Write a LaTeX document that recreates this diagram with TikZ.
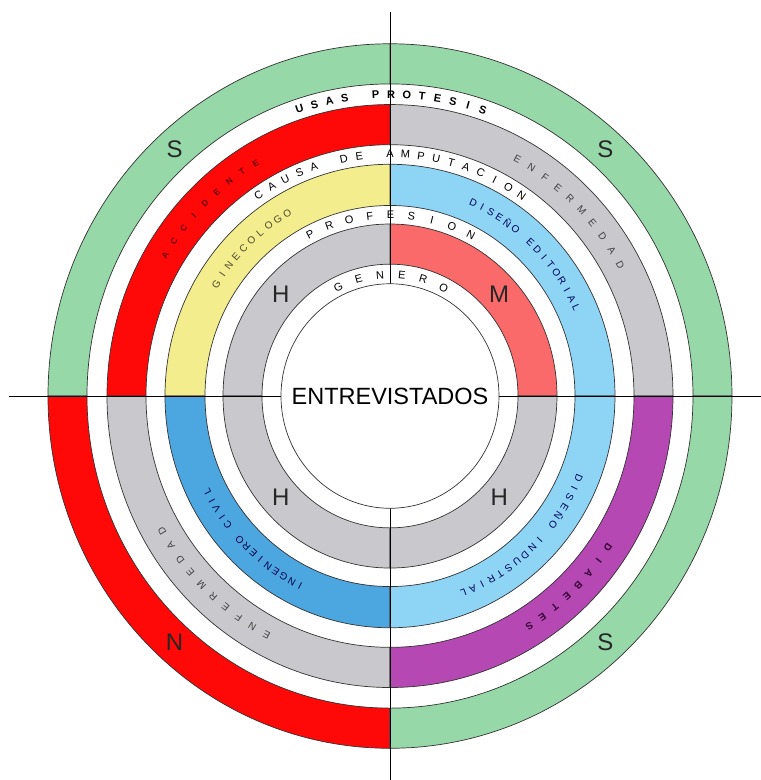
\documentclass[tikz,border=0pt]{standalone}
\usepackage{fontspec}
\setmainfont{Liberation Sans}

\definecolor{ringgreen}{RGB}{150,216,168}
\definecolor{ringred}{RGB}{255,8,8}
\definecolor{ringgray}{RGB}{201,201,205}
\definecolor{ringyellow}{RGB}{243,237,142}
\definecolor{ringsky}{RGB}{142,212,245}
\definecolor{ringblue}{RGB}{76,166,224}
\definecolor{ringsalmon}{RGB}{250,106,106}
\definecolor{ringmagenta}{RGB}{182,72,180}

% one quarter of a ring: inner r, outer r, from, to, colour
\newcommand{\band}[5]{%
	\draw[ringline, fill=#5] ({#3}:#1) arc[start angle={#3}, end angle={#4}, radius=#1]
		-- ({#4}:#2) arc[start angle={#4}, end angle={#3}, radius=#2] -- cycle;}

% letters round an arc: radius, first angle, step, style, name, letters
\newcommand{\arcword}[6]{%
	\foreach \ch [count=\k] in {#6} {
		\pgfmathsetmacro{\ang}{#2-(\k-1)*#3}
		\node[#4, rotate=\ang-90] (#5-\k) at (\ang:#1) {\ch};
	}}

\begin{document}
\begin{tikzpicture}[x=1pt, y=1.03pt,
	ringline/.style={draw=black!80, line width=0.7pt},
	axis/.style={draw=black, line width=0.8pt},
	bigletter/.style={font=\fontsize{24}{26}\selectfont, text=black!85},
	gapword/.style={font=\fontsize{11}{13}\selectfont, inner sep=0pt},
	ringword/.style={font=\fontsize{10}{12}\selectfont, inner sep=0pt}]
%
	\useasboundingbox (-390,-372.8) rectangle (371,384.5);
%
	% rings, outside in
	\foreach \a/\c in {0/ringgreen,90/ringgreen,180/ringred,270/ringgreen}
		\band{303}{342}{\a}{\a+90}{\c};
	\foreach \a/\c in {0/ringgray,90/ringred,180/ringgray,270/ringmagenta}
		\band{244}{283}{\a}{\a+90}{\c};
	\foreach \a/\c in {0/ringsky,90/ringyellow,180/ringblue,270/ringsky}
		\band{185}{225}{\a}{\a+90}{\c};
	\foreach \a/\c in {0/ringsalmon,90/ringgray,180/ringgray,270/ringgray}
		\band{128}{167}{\a}{\a+90}{\c};
%
	\coordinate (west) at (-381,0);
	\coordinate (east) at (371,0);
	\coordinate (north) at (0,372.8);
	\coordinate (south) at (0,-372.8);
	\draw[axis] (west) -- (east);
	\draw[axis] (north) -- (south);
%
	\draw[ringline, fill=white] (0,0) circle[radius=109];
	\node[font=\fontsize{23.5}{26}\selectfont] (centro) at (0,0) {ENTREVISTADOS};
%
	\node[bigletter] (s1) at (132:322) {S};
	\node[bigletter] (s2) at (48:322) {S};
	\node[bigletter] (s3) at (-48:322) {S};
	\node[bigletter] (n1) at (-132:322) {N};
	\node[bigletter] (h1) at (138:147) {H};
	\node[bigletter] (m1) at (42:147) {M};
	\node[bigletter] (h2) at (-138:147) {H};
	\node[bigletter] (h3) at (-42:147) {H};
%
	% words in the white gaps
	\arcword{293}{108}{3.04}{gapword, font=\fontsize{11}{13}\selectfont\bfseries}{usa}{U,S,A,S,,P,R,O,T,E,S,I,S}
	\arcword{235}{124}{3.78}{gapword}{cau}{C,A,U,S,A,,D,E,,A,M,P,U,T,A,C,I,O,N}
	\arcword{176}{117}{6.8}{gapword}{pro}{P,R,O,F,E,S,I,O,N}
	\arcword{118}{116}{10.6}{gapword}{gen}{G,E,N,E,R,O}
%
	% words in the rings
	\arcword{263}{148.7}{3.5}{ringword, text=red!40!black, font=\fontsize{8.5}{10}\selectfont\bfseries}{acc}{A,C,C,I,D,E,N,T,E}
	\arcword{263}{61}{3.56}{ringword, text=black!75}{enf}{E,N,F,E,R,M,E,D,A,D}
	\arcword{263}{242}{3.56}{ringword, text=black!75}{enb}{E,N,F,E,R,M,E,D,A,D}
	\arcword{263}{-34}{3.43}{ringword, text=violet!40!black, font=\fontsize{10}{12}\selectfont\bfseries}{dia}{D,I,A,B,E,T,E,S}
	\arcword{205}{148}{3.1}{ringword, text=olive!40!black}{gin}{G,I,N,E,C,O,L,O,G,O}
	\arcword{205}{66}{2.75}{ringword, text=blue!35!black}{ded}{D,I,S,E,Ñ,O,,E,D,I,T,O,R,I,A,L}
	\arcword{205}{244}{2.64}{ringword, text=blue!30!black}{ing}{I,N,G,E,N,I,E,R,O,,C,I,V,I,L}
	\arcword{205}{-23}{2.875}{ringword, text=blue!35!black}{din}{D,I,S,E,Ñ,O,,I,N,D,U,S,T,R,I,A,L}
\end{tikzpicture}
\end{document}
